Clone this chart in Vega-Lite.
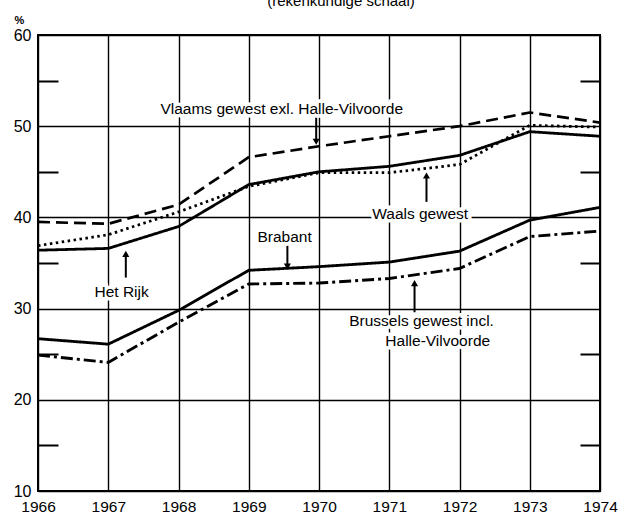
{
  "$schema": "https://vega.github.io/schema/vega-lite/v6.json",
  "width": 562,
  "height": 456,
  "autosize": {"type": "none"},
  "padding": {"left": 38, "top": 35, "right": 31, "bottom": 26},
  "background": "white",
  "config": {
    "view": {"stroke": "black", "strokeWidth": 2},
    "font": "Liberation Sans",
    "text": {"font": "Liberation Sans"}
  },
  "title": {
    "text": "(rekenkundige schaal)",
    "anchor": "middle",
    "dx": 22,
    "offset": -7,
    "baseline": "alphabetic",
    "fontSize": 15,
    "fontWeight": "normal",
    "font": "Liberation Sans",
    "color": "black"
  },
  "datasets": {
    "series": [
      {"regio": "Vlaams gewest exl. Halle-Vilvoorde", "jaar": 1966, "pct": 39.5},
      {"regio": "Vlaams gewest exl. Halle-Vilvoorde", "jaar": 1967, "pct": 39.3},
      {"regio": "Vlaams gewest exl. Halle-Vilvoorde", "jaar": 1968, "pct": 41.4},
      {"regio": "Vlaams gewest exl. Halle-Vilvoorde", "jaar": 1969, "pct": 46.6},
      {"regio": "Vlaams gewest exl. Halle-Vilvoorde", "jaar": 1970, "pct": 47.8},
      {"regio": "Vlaams gewest exl. Halle-Vilvoorde", "jaar": 1971, "pct": 48.9},
      {"regio": "Vlaams gewest exl. Halle-Vilvoorde", "jaar": 1972, "pct": 50.0},
      {"regio": "Vlaams gewest exl. Halle-Vilvoorde", "jaar": 1973, "pct": 51.5},
      {"regio": "Vlaams gewest exl. Halle-Vilvoorde", "jaar": 1974, "pct": 50.4},
      {"regio": "Waals gewest", "jaar": 1966, "pct": 36.9},
      {"regio": "Waals gewest", "jaar": 1967, "pct": 38.1},
      {"regio": "Waals gewest", "jaar": 1968, "pct": 40.6},
      {"regio": "Waals gewest", "jaar": 1969, "pct": 43.4},
      {"regio": "Waals gewest", "jaar": 1970, "pct": 44.9},
      {"regio": "Waals gewest", "jaar": 1971, "pct": 44.9},
      {"regio": "Waals gewest", "jaar": 1972, "pct": 45.8},
      {"regio": "Waals gewest", "jaar": 1973, "pct": 50.1},
      {"regio": "Waals gewest", "jaar": 1974, "pct": 49.9},
      {"regio": "Het Rijk", "jaar": 1966, "pct": 36.4},
      {"regio": "Het Rijk", "jaar": 1967, "pct": 36.6},
      {"regio": "Het Rijk", "jaar": 1968, "pct": 39.0},
      {"regio": "Het Rijk", "jaar": 1969, "pct": 43.6},
      {"regio": "Het Rijk", "jaar": 1970, "pct": 45.0},
      {"regio": "Het Rijk", "jaar": 1971, "pct": 45.6},
      {"regio": "Het Rijk", "jaar": 1972, "pct": 46.8},
      {"regio": "Het Rijk", "jaar": 1973, "pct": 49.4},
      {"regio": "Het Rijk", "jaar": 1974, "pct": 48.9},
      {"regio": "Brabant", "jaar": 1966, "pct": 26.7},
      {"regio": "Brabant", "jaar": 1967, "pct": 26.1},
      {"regio": "Brabant", "jaar": 1968, "pct": 29.8},
      {"regio": "Brabant", "jaar": 1969, "pct": 34.2},
      {"regio": "Brabant", "jaar": 1970, "pct": 34.6},
      {"regio": "Brabant", "jaar": 1971, "pct": 35.1},
      {"regio": "Brabant", "jaar": 1972, "pct": 36.3},
      {"regio": "Brabant", "jaar": 1973, "pct": 39.7},
      {"regio": "Brabant", "jaar": 1974, "pct": 41.1},
      {"regio": "Brussels gewest incl. Halle-Vilvoorde", "jaar": 1966, "pct": 24.9},
      {"regio": "Brussels gewest incl. Halle-Vilvoorde", "jaar": 1967, "pct": 24.1},
      {"regio": "Brussels gewest incl. Halle-Vilvoorde", "jaar": 1968, "pct": 28.5},
      {"regio": "Brussels gewest incl. Halle-Vilvoorde", "jaar": 1969, "pct": 32.7},
      {"regio": "Brussels gewest incl. Halle-Vilvoorde", "jaar": 1970, "pct": 32.8},
      {"regio": "Brussels gewest incl. Halle-Vilvoorde", "jaar": 1971, "pct": 33.3},
      {"regio": "Brussels gewest incl. Halle-Vilvoorde", "jaar": 1972, "pct": 34.4},
      {"regio": "Brussels gewest incl. Halle-Vilvoorde", "jaar": 1973, "pct": 37.9},
      {"regio": "Brussels gewest incl. Halle-Vilvoorde", "jaar": 1974, "pct": 38.5}
    ],
    "labels": [
      {"tekst": "Vlaams gewest exl. Halle-Vilvoorde", "jaar": 1969.47, "pct": 51.85},
      {"tekst": "Waals gewest", "jaar": 1971.44, "pct": 40.4},
      {"tekst": "Brabant", "jaar": 1969.51, "pct": 37.9},
      {"tekst": "Het Rijk", "jaar": 1967.19, "pct": 31.8},
      {"tekst": "Brussels gewest incl.", "jaar": 1971.46, "pct": 28.6},
      {"tekst": "Halle-Vilvoorde", "jaar": 1971.69, "pct": 26.5}
    ],
    "arrows": [
      {"naar": "Vlaams gewest exl. Halle-Vilvoorde", "jaar": 1969.96, "van": 51.0, "tot": 48.3, "richting": "omlaag"},
      {"naar": "Waals gewest", "jaar": 1971.53, "van": 41.7, "tot": 44.6, "richting": "omhoog"},
      {"naar": "Brabant", "jaar": 1969.55, "van": 36.9, "tot": 34.6, "richting": "omlaag"},
      {"naar": "Het Rijk", "jaar": 1967.25, "van": 33.4, "tot": 36.0, "richting": "omhoog"},
      {"naar": "Brussels gewest incl. Halle-Vilvoorde", "jaar": 1971.36, "van": 29.6, "tot": 32.8, "richting": "omhoog"}
    ]
  },
  "layer": [
    {
      "data": {"name": "series"},
      "mark": {"type": "line", "color": "black", "strokeCap": "butt", "strokeJoin": "round"},
      "encoding": {
        "x": {
          "field": "jaar", "type": "quantitative",
          "scale": {"domain": [1966, 1974], "nice": false, "zero": false},
          "axis": {
            "values": [1966, 1967, 1968, 1969, 1970, 1971, 1972, 1973, 1974],
            "format": "d", "title": null, "domain": false, "ticks": false,
            "grid": true, "gridColor": "black", "gridOpacity": 1, "gridWidth": 1.4,
            "labelFontSize": 15.5, "labelColor": "black", "labelPadding": 8,
            "labelFont": "Liberation Sans", "labelFlush": false
          }
        },
        "y": {
          "field": "pct", "type": "quantitative",
          "scale": {"domain": [10, 60], "nice": false, "zero": false},
          "axis": {
            "values": [10, 15, 20, 25, 30, 35, 40, 45, 50, 55, 60],
            "labelExpr": "datum.value % 10 === 0 ? datum.label : ''",
            "domain": false,
            "grid": true, "gridColor": "black", "gridWidth": 1.4,
            "gridOpacity": {"condition": {"test": "datum.value % 10 === 0", "value": 1}, "value": 0},
            "ticks": true, "tickColor": "black", "tickWidth": 2,
            "tickSize": {"condition": {"test": "datum.value % 10 === 0", "value": 0}, "value": -20},
            "labelFontSize": 16, "labelColor": "black", "labelPadding": 7,
            "labelFont": "Liberation Sans", "labelFlush": false,
            "title": "%", "titleAngle": 0, "titleX": -19, "titleY": -15,
            "titleFontSize": 11, "titleFontWeight": "bold", "titleColor": "black",
            "titleAlign": "center", "titleBaseline": "middle"
          }
        },
        "detail": {"field": "regio"},
        "strokeDash": {
          "field": "regio", "type": "nominal", "legend": null,
          "scale": {
            "domain": ["Vlaams gewest exl. Halle-Vilvoorde", "Waals gewest", "Het Rijk", "Brabant", "Brussels gewest incl. Halle-Vilvoorde"],
            "range": [[12, 6], [2.5, 3.5], [1, 0], [1, 0], [12, 4, 3, 4]]
          }
        },
        "strokeWidth": {
          "field": "regio", "type": "nominal", "legend": null,
          "scale": {
            "domain": ["Vlaams gewest exl. Halle-Vilvoorde", "Waals gewest", "Het Rijk", "Brabant", "Brussels gewest incl. Halle-Vilvoorde"],
            "range": [2.7, 2.9, 2.7, 3.2, 2.7]
          }
        }
      }
    },
    {
      "data": {"name": "arrows"},
      "mark": {"type": "rule", "color": "black", "strokeWidth": 2},
      "encoding": {
        "x": {"field": "jaar", "type": "quantitative"},
        "y": {
          "field": "van", "type": "quantitative",
          "axis": {
            "orient": "right",
            "values": [15, 25, 35, 45, 55],
            "labels": false, "grid": false, "domain": false, "title": null,
            "ticks": true, "tickColor": "black", "tickWidth": 2, "tickSize": -20
          }
        },
        "y2": {"field": "tot"}
      }
    },
    {
      "data": {"name": "arrows"},
      "mark": {"type": "point", "filled": true, "color": "black", "opacity": 1, "size": 50},
      "encoding": {
        "x": {"field": "jaar", "type": "quantitative"},
        "y": {"field": "tot", "type": "quantitative", "axis": null},
        "shape": {
          "field": "richting", "type": "nominal", "legend": null,
          "scale": {"domain": ["omhoog", "omlaag"], "range": ["triangle-up", "triangle-down"]}
        }
      }
    },
    {
      "data": {"name": "labels"},
      "mark": {"type": "text", "font": "Liberation Sans", "fontSize": 15.5, "color": "white", "stroke": "white", "strokeWidth": 7, "align": "center", "baseline": "middle"},
      "encoding": {
        "x": {"field": "jaar", "type": "quantitative"},
        "y": {"field": "pct", "type": "quantitative", "axis": null},
        "text": {"field": "tekst"}
      }
    },
    {
      "data": {"name": "labels"},
      "mark": {"type": "text", "font": "Liberation Sans", "fontSize": 15.5, "color": "black", "align": "center", "baseline": "middle"},
      "encoding": {
        "x": {"field": "jaar", "type": "quantitative"},
        "y": {"field": "pct", "type": "quantitative", "axis": null},
        "text": {"field": "tekst"}
      }
    }
  ],
  "resolve": {"axis": {"y": "independent"}}
}
